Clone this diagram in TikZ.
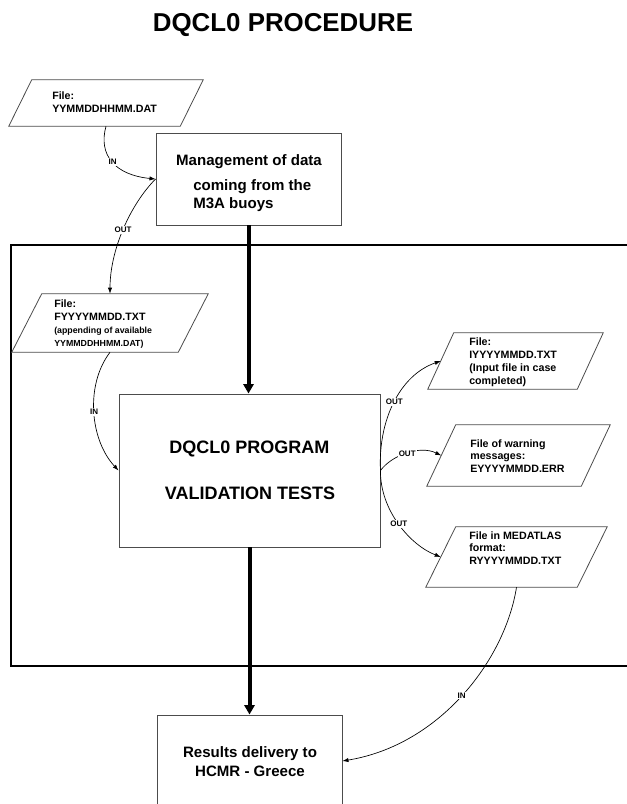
\documentclass[tikz,border=0pt]{standalone}
\usepackage{fontspec}
\setmainfont{Liberation Sans}
\usetikzlibrary{arrows.meta,calc,fit}
\newcommand\filebox[6]{%
  \node[fitbox, fit={(#2,#3) (#4,#5)}] (#1) {};
  \draw[fileshape] (#1.south west) -- ($(#1.north west)+(#6,0)$) -- (#1.north east) -- ($(#1.south east)-(#6,0)$) -- cycle;
  \coordinate (#1w) at ($(#1.south west)!0.5!(#1.north west)+(#6/2,0)$);
}
\begin{document}
\begin{tikzpicture}[x=0.75pt,y=-0.75pt,
  boxst/.style={draw=black!70, line width=0.7pt, fill=white, inner sep=0pt},
  fileshape/.style={draw=black!70, line width=0.6pt, fill=white},
  fitbox/.style={inner sep=0pt, draw=none},
  ftext/.style={anchor=north west, inner sep=0pt, align=left, font=\bfseries\fontsize{8}{9.75}\selectfont},
  mtext/.style={inner sep=0pt, font=\bfseries\fontsize{11.3}{13}\selectfont},
  ptext/.style={inner sep=0pt, anchor=base, font=\bfseries\fontsize{13.5}{16}\selectfont},
  conn/.style={line width=0.5pt, -{Latex[length=4.5pt,width=3.2pt]}},
  flowarrow/.style={line width=3pt, -{Triangle[length=7pt,width=7.5pt]}},
  lbl/.style={fill=white, inner sep=0.8pt, font=\bfseries\fontsize{6}{7}\selectfont},
  framest/.style={line width=2.2pt, black}
]
\useasboundingbox (0,0) rectangle (627,804);

% title
\node[inner sep=0pt, anchor=base, font=\bfseries\fontsize{19.4}{23}\selectfont] (title) at (283,31) {DQCL0 PROCEDURE};

% frame
\draw[framest] (660,245) -- (11,245) -- (11,666) -- (660,666);

% boxes
\node[boxst, fit={(156,133) (341,225)}] (mgmt) {};
\node[mtext, anchor=base] (m1) at (249,165.5) {Management of data};
\node[mtext, anchor=base west] (m2) at (193,190.5) {coming from the};
\node[mtext, anchor=base west] (m3) at (193,208.5) {M3A buoys};

\node[boxst, fit={(119,394) (380,547)}] (prog) {};
\node[ptext] (pg1) at (249.5,453.5) {DQCL0 PROGRAM};
\node[ptext] (pg2) at (250,499.5) {VALIDATION TESTS};

\node[boxst, fit={(157,715) (342,807)}] (res) {};
\node[mtext, anchor=base] (r1) at (250,757.5) {Results delivery to};
\node[mtext, anchor=base] (r2) at (250,776.5) {HCMR - Greece};

% file parallelograms
\filebox{p1}{9}{80}{203}{126}{23}
\node[ftext] (p1t) at (52,91.2) {File:\\YYMMDDHHMM.DAT};
\filebox{p2}{12}{294}{208}{352}{30}
\node[ftext] (p2t) at (54,299.2) {File:\\FYYYYMMDD.TXT\\{\fontsize{6.6}{9.75}\selectfont (appending of available}\\{\fontsize{6.6}{9.75}\selectfont YYMMDDHHMM.DAT)}};
\filebox{p3}{428}{333}{603}{389}{26}
\node[ftext] (p3t) at (469,337.2) {File:\\IYYYYMMDD.TXT\\(Input file in case\\completed)};
\filebox{p4}{427}{425}{610}{486}{29}
\node[ftext, font=\bfseries\fontsize{8}{9.4}\selectfont] (p4t) at (470,439.2) {File of warning\\messages:\\EYYYYMMDD.ERR};
\filebox{p5}{426}{527}{607}{587}{30}
\node[ftext, font=\bfseries\fontsize{8}{9.4}\selectfont] (p5t) at (469,531.2) {File in MEDATLAS\\format:\\RYYYYMMDD.TXT};

% thick flow arrows
\draw[flowarrow] (mgmt.south) -- (mgmt.south |- prog.north);
\draw[flowarrow] (prog.south) -- (res.north);

% connectors
\draw[conn] (p1.south) .. controls (98,155) and (115,175) .. (mgmt.west) node[lbl, pos=0.5] {IN};
\draw[conn] (mgmt.west) .. controls (130,205) and (110,250) .. (p2.north) node[lbl, pos=0.5] {OUT};
\draw[conn] (p2.south) .. controls (85,385) and (90,440) .. (prog.west) node[lbl, pos=0.5] {IN};
\draw[conn] (prog.east) .. controls (378,420) and (400,375) .. (p3w) node[lbl, pos=0.5] {OUT};
\draw[conn] (prog.east) .. controls (392,455) and (420,445) .. (p4w) node[lbl, pos=0.5] {OUT};
\draw[conn] (prog.east) .. controls (380,510) and (410,545) .. (p5w) node[lbl, pos=0.5] {OUT};
\draw[conn] (p5.south) .. controls (505,660) and (440,745) .. (res.east) node[lbl, pos=0.5] {IN};
\end{tikzpicture}
\end{document}
